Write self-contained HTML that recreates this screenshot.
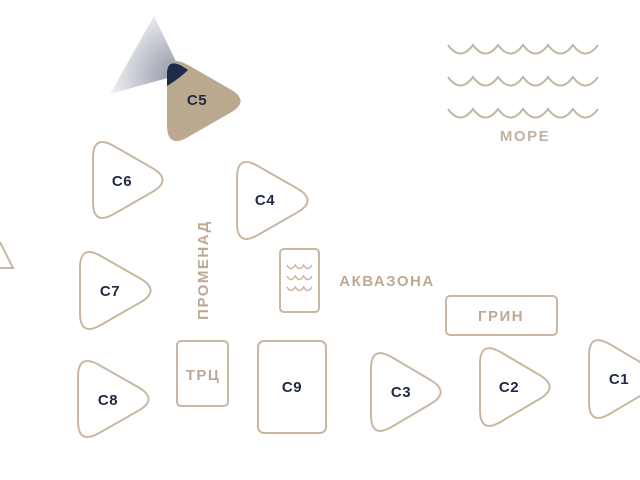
<!DOCTYPE html>
<html><head><meta charset="utf-8"><style>
html,body{margin:0;padding:0;background:#fff;width:640px;height:480px;overflow:hidden}
svg{display:block}
text{font-family:"Liberation Sans",sans-serif}
</style></head><body>
<svg id="s" width="640" height="480" viewBox="0 0 640 480" xmlns="http://www.w3.org/2000/svg">
<defs>
<radialGradient id="g" gradientUnits="userSpaceOnUse" cx="178" cy="76" r="80">
<stop offset="0" stop-color="#1d2a4a" stop-opacity="0.5"/>
<stop offset="1" stop-color="#1d2a4a" stop-opacity="0"/>
</radialGradient>
</defs>
<polygon points="154,16 182,74 110,94" fill="url(#g)"/>
<g id="tris"></g>
<g fill="none" stroke="#c8b7a2" stroke-width="2">
<path d="M0,242 L13,268 L0,268"/>
<rect x="177" y="341" width="51" height="65" rx="4"/>
<rect x="258" y="341" width="68" height="92" rx="6"/>
<rect x="280" y="249" width="39" height="63" rx="4"/>
<rect x="446" y="296" width="111" height="39" rx="4"/>
</g>
<g id="waves" fill="none" stroke="#c4b6a6" stroke-width="2"></g>
<g fill="none" stroke="#c8b7a2" stroke-width="1.5" id="aw"></g>
<g fill="#1f2944" font-size="15" font-weight="bold" text-anchor="middle" letter-spacing="0.5">
<text x="197" y="105">C5</text>
<text x="122" y="186">C6</text>
<text x="265" y="205">C4</text>
<text x="110" y="296">C7</text>
<text x="108" y="405">C8</text>
<text x="292" y="392">C9</text>
<text x="401" y="397">C3</text>
<text x="509" y="392">C2</text>
<text x="619" y="384">C1</text>
</g>
<g fill="#bda993" font-size="15" font-weight="bold" text-anchor="middle" letter-spacing="1.5">
<text x="525" y="141" fill="#c0b2a3">МОРЕ</text>
<text x="387" y="286">АКВАЗОНА</text>
<text x="501" y="321">ГРИН</text>
<text x="203" y="380">ТРЦ</text>
<text transform="translate(208,270) rotate(-90)">ПРОМЕНАД</text>
</g>
</svg>
<script>
var NS="http://www.w3.org/2000/svg";
function rt(x,y,w,h,r){
 var P=[[x,y],[x+w,y+h/2],[x,y+h]],d="";
 for(var i=0;i<3;i++){
  var p=P[i],a=P[(i+2)%3],b=P[(i+1)%3];
  var da=Math.hypot(a[0]-p[0],a[1]-p[1]),db=Math.hypot(b[0]-p[0],b[1]-p[1]);
  var s=[p[0]+(a[0]-p[0])*r/da,p[1]+(a[1]-p[1])*r/da];
  var e=[p[0]+(b[0]-p[0])*r/db,p[1]+(b[1]-p[1])*r/db];
  d+=(i?"L":"M")+s[0]+","+s[1]+" Q"+p[0]+","+p[1]+" "+e[0]+","+e[1]+" ";
 }
 return d+"Z";
}
var T=document.getElementById("tris");
function add(x,y,w,h,fill){
 var p=document.createElementNS(NS,"path");
 p.setAttribute("d",rt(x,y-7,w+6,h+14,24));
 if(fill){p.setAttribute("fill","#bba98f");}
 else{p.setAttribute("fill","#fff");p.setAttribute("stroke","#c8b7a2");p.setAttribute("stroke-width","2");}
 T.appendChild(p);
}
add(167,60,78,82,true);
add(93,141,74,78);
add(237,161,75,79);
add(80,251,75,79);
add(78,360,75,78);
add(371,352,74,80);
add(480,347,74,80);
add(589,339,74,80);
var c=document.createElementNS(NS,"path");
c.setAttribute("d","M167,86 L167,74 Q167,58 182,66 L188,70 Q180,78 167,86Z");
c.setAttribute("fill","#1d2a4a");T.appendChild(c);
var W=document.getElementById("waves");
[45,77,109].forEach(function(y){
 var d="M448,"+y;
 for(var i=0;i<6;i++){var x0=448+i*25;d+=" Q"+(x0+12.5)+","+(y+17)+" "+(x0+25)+","+y;}
 var p=document.createElementNS(NS,"path");p.setAttribute("d",d);W.appendChild(p);
});
var A=document.getElementById("aw");
[265,276,287].forEach(function(y){
 var d="M287,"+y;
 for(var i=0;i<3;i++){var x0=287+i*8.3;d+=" Q"+(x0+4.15)+","+(y+7)+" "+(x0+8.3)+","+y;}
 var p=document.createElementNS(NS,"path");p.setAttribute("d",d);A.appendChild(p);
});
</script>
</body></html>
